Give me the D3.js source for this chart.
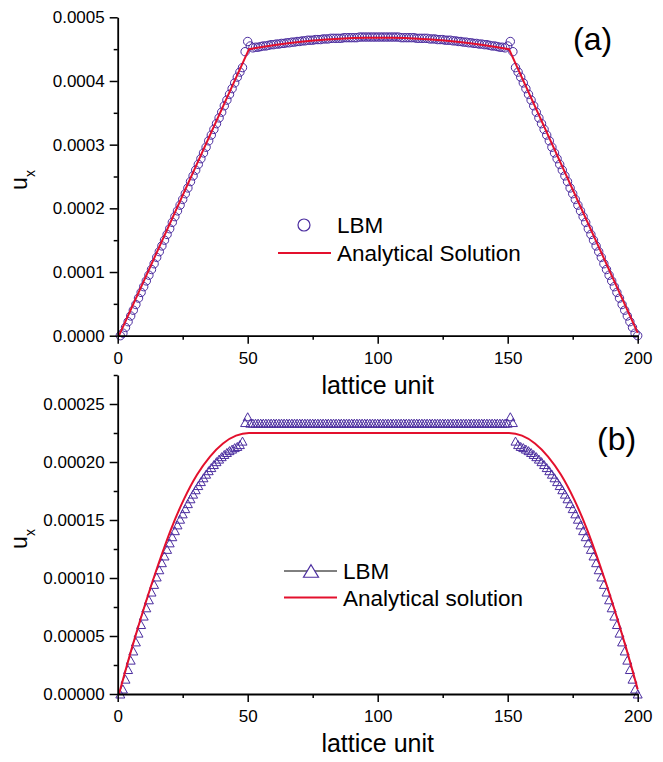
<!DOCTYPE html>
<html>
<head>
<meta charset="utf-8">
<script src="https://cdn.jsdelivr.net/npm/d3@7"></script>
<style>
  body { margin: 0; background: #fff; }
  svg { display: block; font-family: "Liberation Sans", Arial, sans-serif; }
</style>
</head>
<body>
<div id="chart"></div>
<script>
// ---- data (velocities in units of 1e-6) ----
const lbmX = d3.range(1, 201); // lattice nodes 1..200

const lbmA = [
  0,4,13,22,31,40,49,59,68,77,86,95,104,113,123,132,141,150,159,168,
  178,187,196,205,214,223,232,242,251,260,269,278,287,296,306,315,324,333,342,351,
  361,370,379,388,397,406,414,421,
  446,462,
  455,452,453,453,454,455,455,456,457,457,
  458,458,459,459,460,460,461,461,462,462,
  463,463,464,464,464,465,465,465,466,466,
  466,467,467,467,467,467,468,468,468,468,
  468,468,469,469,469,469,469,469,469,469,
  469,469,469,469,469,469,469,469,468,468,
  468,468,468,468,467,467,467,467,467,466,
  466,466,465,465,465,464,464,464,463,463,
  462,462,461,461,460,460,459,459,458,458,
  457,457,456,455,455,454,453,453,452,455,
  462,446,
  421,414,406,397,388,379,370,361,351,342,333,324,315,306,296,287,278,269,260,251,
  242,232,223,214,205,196,187,178,168,159,150,141,132,123,113,104,95,86,77,68,
  59,49,40,31,22,13,4,0
];

const lbmB = [
  0,4.3,12.8,21.1,29.2,37.1,44.9,52.5,59.9,67.2,74.3,81.2,87.9,94.5,100.9,107.1,113.2,119.0,124.7,130.3,
  135.6,140.8,145.8,150.7,155.3,159.8,164.1,168.3,172.3,176.1,179.7,183.1,186.4,189.5,192.5,195.2,197.8,200.3,202.5,204.6,
  206.5,208.2,209.8,211.1,212.4,213.4,215.0,218.0,
  234,239,
  233.5,233.5,233.5,233.5,233.5,233.5,233.5,233.5,233.5,233.5,
  233.5,233.5,233.5,233.5,233.5,233.5,233.5,233.5,233.5,233.5,
  233.5,233.5,233.5,233.5,233.5,233.5,233.5,233.5,233.5,233.5,
  233.5,233.5,233.5,233.5,233.5,233.5,233.5,233.5,233.5,233.5,
  233.5,233.5,233.5,233.5,233.5,233.5,233.5,233.5,233.5,233.5,
  233.5,233.5,233.5,233.5,233.5,233.5,233.5,233.5,233.5,233.5,
  233.5,233.5,233.5,233.5,233.5,233.5,233.5,233.5,233.5,233.5,
  233.5,233.5,233.5,233.5,233.5,233.5,233.5,233.5,233.5,233.5,
  233.5,233.5,233.5,233.5,233.5,233.5,233.5,233.5,233.5,233.5,
  233.5,233.5,233.5,233.5,233.5,233.5,233.5,233.5,233.5,233.5,
  239,234,
  218.0,215.0,213.4,212.4,211.1,209.8,208.2,206.5,204.6,202.5,200.3,197.8,195.2,192.5,189.5,186.4,183.1,179.7,176.1,172.3,
  168.3,164.1,159.8,155.3,150.7,145.8,140.8,135.6,130.3,124.7,119.0,113.2,107.1,100.9,94.5,87.9,81.2,74.3,67.2,59.9,
  52.5,44.9,37.1,29.2,21.1,12.8,4.3,0
];

// analytical solutions
const anaAX = [0.5, 50.5, 55.5, 60.5, 65.5, 70.5, 75.5, 80.5, 85.5, 90.5, 95.5, 100.5,
               105.5, 110.5, 115.5, 120.5, 125.5, 130.5, 135.5, 140.5, 145.5, 150.5, 200];
const anaAY = [0, 450, 453.4, 456.5, 459.2, 461.5, 463.5, 465.1, 466.4, 467.3, 467.8, 468,
               467.8, 467.3, 466.4, 465.1, 463.5, 461.5, 459.2, 456.5, 453.4, 450, 4.5];

const anaBX = [0.5, 5.5, 10.5, 15.5, 20.5, 25.5, 30.5, 35.5, 40.5, 45.5, 50.5,
               150.5, 155.5, 160.5, 165.5, 170.5, 175.5, 180.5, 185.5, 190.5, 195.5, 200];
const anaBY = [0, 40, 77, 111, 142, 168, 189, 204.7, 216, 222.7, 225,
               225, 222.7, 216, 204.7, 189, 168, 142, 111, 77, 40, 4];

const xMajor = [0, 50, 100, 150, 200];
const xMinor = [25, 75, 125, 175];
const yMajorA = [0, 0.0001, 0.0002, 0.0003, 0.0004, 0.0005];
const yMinorA = [0.00005, 0.00015, 0.00025, 0.00035, 0.00045];
const yMajorB = [0, 0.00005, 0.0001, 0.00015, 0.0002, 0.00025];
const yMinorB = [0.000025, 0.000075, 0.000125, 0.000175, 0.000225, 0.000275];

// ---- drawing ----
const purple = "#4b2d9f";
const red = "#e3102d";

const svg = d3.select("#chart").append("svg")
    .attr("width", 663)
    .attr("height", 762);

const x = d3.scaleLinear().domain([0, 200]).range([117.7, 637.7]);

function trianglePath(w, h) {
    return `M0,${-h / 2}L${w / 2},${h / 2}L${-w / 2},${h / 2}Z`;
}

function drawPanel(p) {
    const y = d3.scaleLinear().domain(p.yDomain).range(p.yRange);
    const g = svg.append("g");
    const fmt = d3.format(p.fmt);

    // markers first, analytical line on top
    const pts = lbmX.map((d, i) => ({x: d, v: p.lbm[i] * 1e-6}));
    if (p.marker === "circle") {
        g.selectAll(".m").data(pts).enter().append("circle")
            .attr("cx", d => x(d.x))
            .attr("cy", d => y(d.v))
            .attr("r", 4.2)
            .attr("fill", "none")
            .attr("stroke", purple)
            .attr("stroke-width", 1);
    } else {
        g.selectAll(".m").data(pts).enter().append("path")
            .attr("d", trianglePath(9, 8))
            .attr("transform", d => `translate(${x(d.x)},${y(d.v)})`)
            .attr("fill", "none")
            .attr("stroke", purple)
            .attr("stroke-width", 1);
    }

    const ana = p.anaX.map((d, i) => [d, p.anaY[i] * 1e-6]);
    g.append("path")
        .datum(ana)
        .attr("fill", "none")
        .attr("stroke", red)
        .attr("stroke-width", 2)
        .attr("d", d3.line().x(d => x(d[0])).y(d => y(d[1])).curve(p.curve));

    // axes
    const xAxis = g.append("g")
        .attr("transform", `translate(0,${p.yRange[0]})`)
        .call(d3.axisBottom(x).tickValues(xMajor).tickSize(8).tickPadding(8).tickSizeOuter(0));
    g.append("g")
        .attr("transform", `translate(0,${p.yRange[0]})`)
        .call(d3.axisBottom(x).tickValues(xMinor).tickSize(4).tickFormat(""))
        .call(a => a.select(".domain").remove());

    const yAxis = g.append("g")
        .attr("transform", `translate(${x(0)},0)`)
        .call(d3.axisLeft(y).tickValues(p.yMajor).tickSize(8).tickPadding(5).tickSizeOuter(0).tickFormat(fmt));
    g.append("g")
        .attr("transform", `translate(${x(0)},0)`)
        .call(d3.axisLeft(y).tickValues(p.yMinor).tickSize(4).tickFormat(""))
        .call(a => a.select(".domain").remove());

    g.selectAll(".domain").attr("stroke-width", 1.8);
    g.selectAll(".tick line").attr("stroke-width", 1.5);
    [xAxis, yAxis].forEach(a => a.selectAll("text")
        .attr("font-size", 17)
        .attr("font-family", "Liberation Sans, Arial, sans-serif")
        .attr("fill", "#000"));

    // axis titles
    g.append("text")
        .attr("x", x(100))
        .attr("y", p.yRange[0] + 58)
        .attr("text-anchor", "middle")
        .attr("font-size", 25)
        .text("lattice unit");

    const yl = g.append("text")
        .attr("transform", `translate(26.7,${p.yLabelY}) rotate(-90)`)
        .attr("text-anchor", "middle")
        .attr("font-size", 23);
    yl.append("tspan").text("u");
    yl.append("tspan").attr("font-size", 14).attr("dy", 8).text("x");

    // panel tag
    g.append("text")
        .attr("x", p.tag.x)
        .attr("y", p.tag.y)
        .attr("font-size", 32)
        .text(p.tag.text);

    // legend
    const lg = g.append("g");
    const L = p.legend;
    if (p.marker === "circle") {
        lg.append("circle")
            .attr("cx", L.symX).attr("cy", L.row1)
            .attr("r", 6)
            .attr("fill", "none").attr("stroke", purple).attr("stroke-width", 1.2);
    } else {
        lg.append("line")
            .attr("x1", L.x1).attr("x2", L.x2)
            .attr("y1", L.row1).attr("y2", L.row1)
            .attr("stroke", "#000").attr("stroke-width", 1);
        lg.append("path")
            .attr("d", trianglePath(15, 12.5))
            .attr("transform", `translate(${L.symX},${L.row1})`)
            .attr("fill", "#fff").attr("stroke", purple).attr("stroke-width", 1.2);
    }
    lg.append("text")
        .attr("x", L.textX).attr("y", L.row1 + 8)
        .attr("font-size", 22.5)
        .text("LBM");
    lg.append("line")
        .attr("x1", L.x1).attr("x2", L.x2)
        .attr("y1", L.row2).attr("y2", L.row2)
        .attr("stroke", red).attr("stroke-width", 2);
    lg.append("text")
        .attr("x", L.textX).attr("y", L.row2 + 8)
        .attr("font-size", 22.5)
        .text(L.label2);
}

drawPanel({
    yDomain: [0, 0.0005], yRange: [335.7, 17.3],
    yMajor: yMajorA, yMinor: yMinorA, fmt: ".4f",
    lbm: lbmA, marker: "circle",
    anaX: anaAX, anaY: anaAY, curve: d3.curveLinear,
    yLabelY: 180,
    tag: {text: "(a)", x: 573, y: 50},
    legend: {symX: 304, x1: 278, x2: 331, textX: 337, row1: 225, row2: 253, label2: "Analytical Solution"}
});

drawPanel({
    yDomain: [0, 0.000275], yRange: [694, 375],
    yMajor: yMajorB, yMinor: yMinorB, fmt: ".5f",
    lbm: lbmB, marker: "triangle",
    anaX: anaBX, anaY: anaBY, curve: d3.curveMonotoneX,
    yLabelY: 539,
    tag: {text: "(b)", x: 597, y: 450},
    legend: {symX: 311, x1: 284, x2: 337, textX: 343, row1: 571, row2: 597.5, label2: "Analytical solution"}
});
</script>
</body>
</html>
